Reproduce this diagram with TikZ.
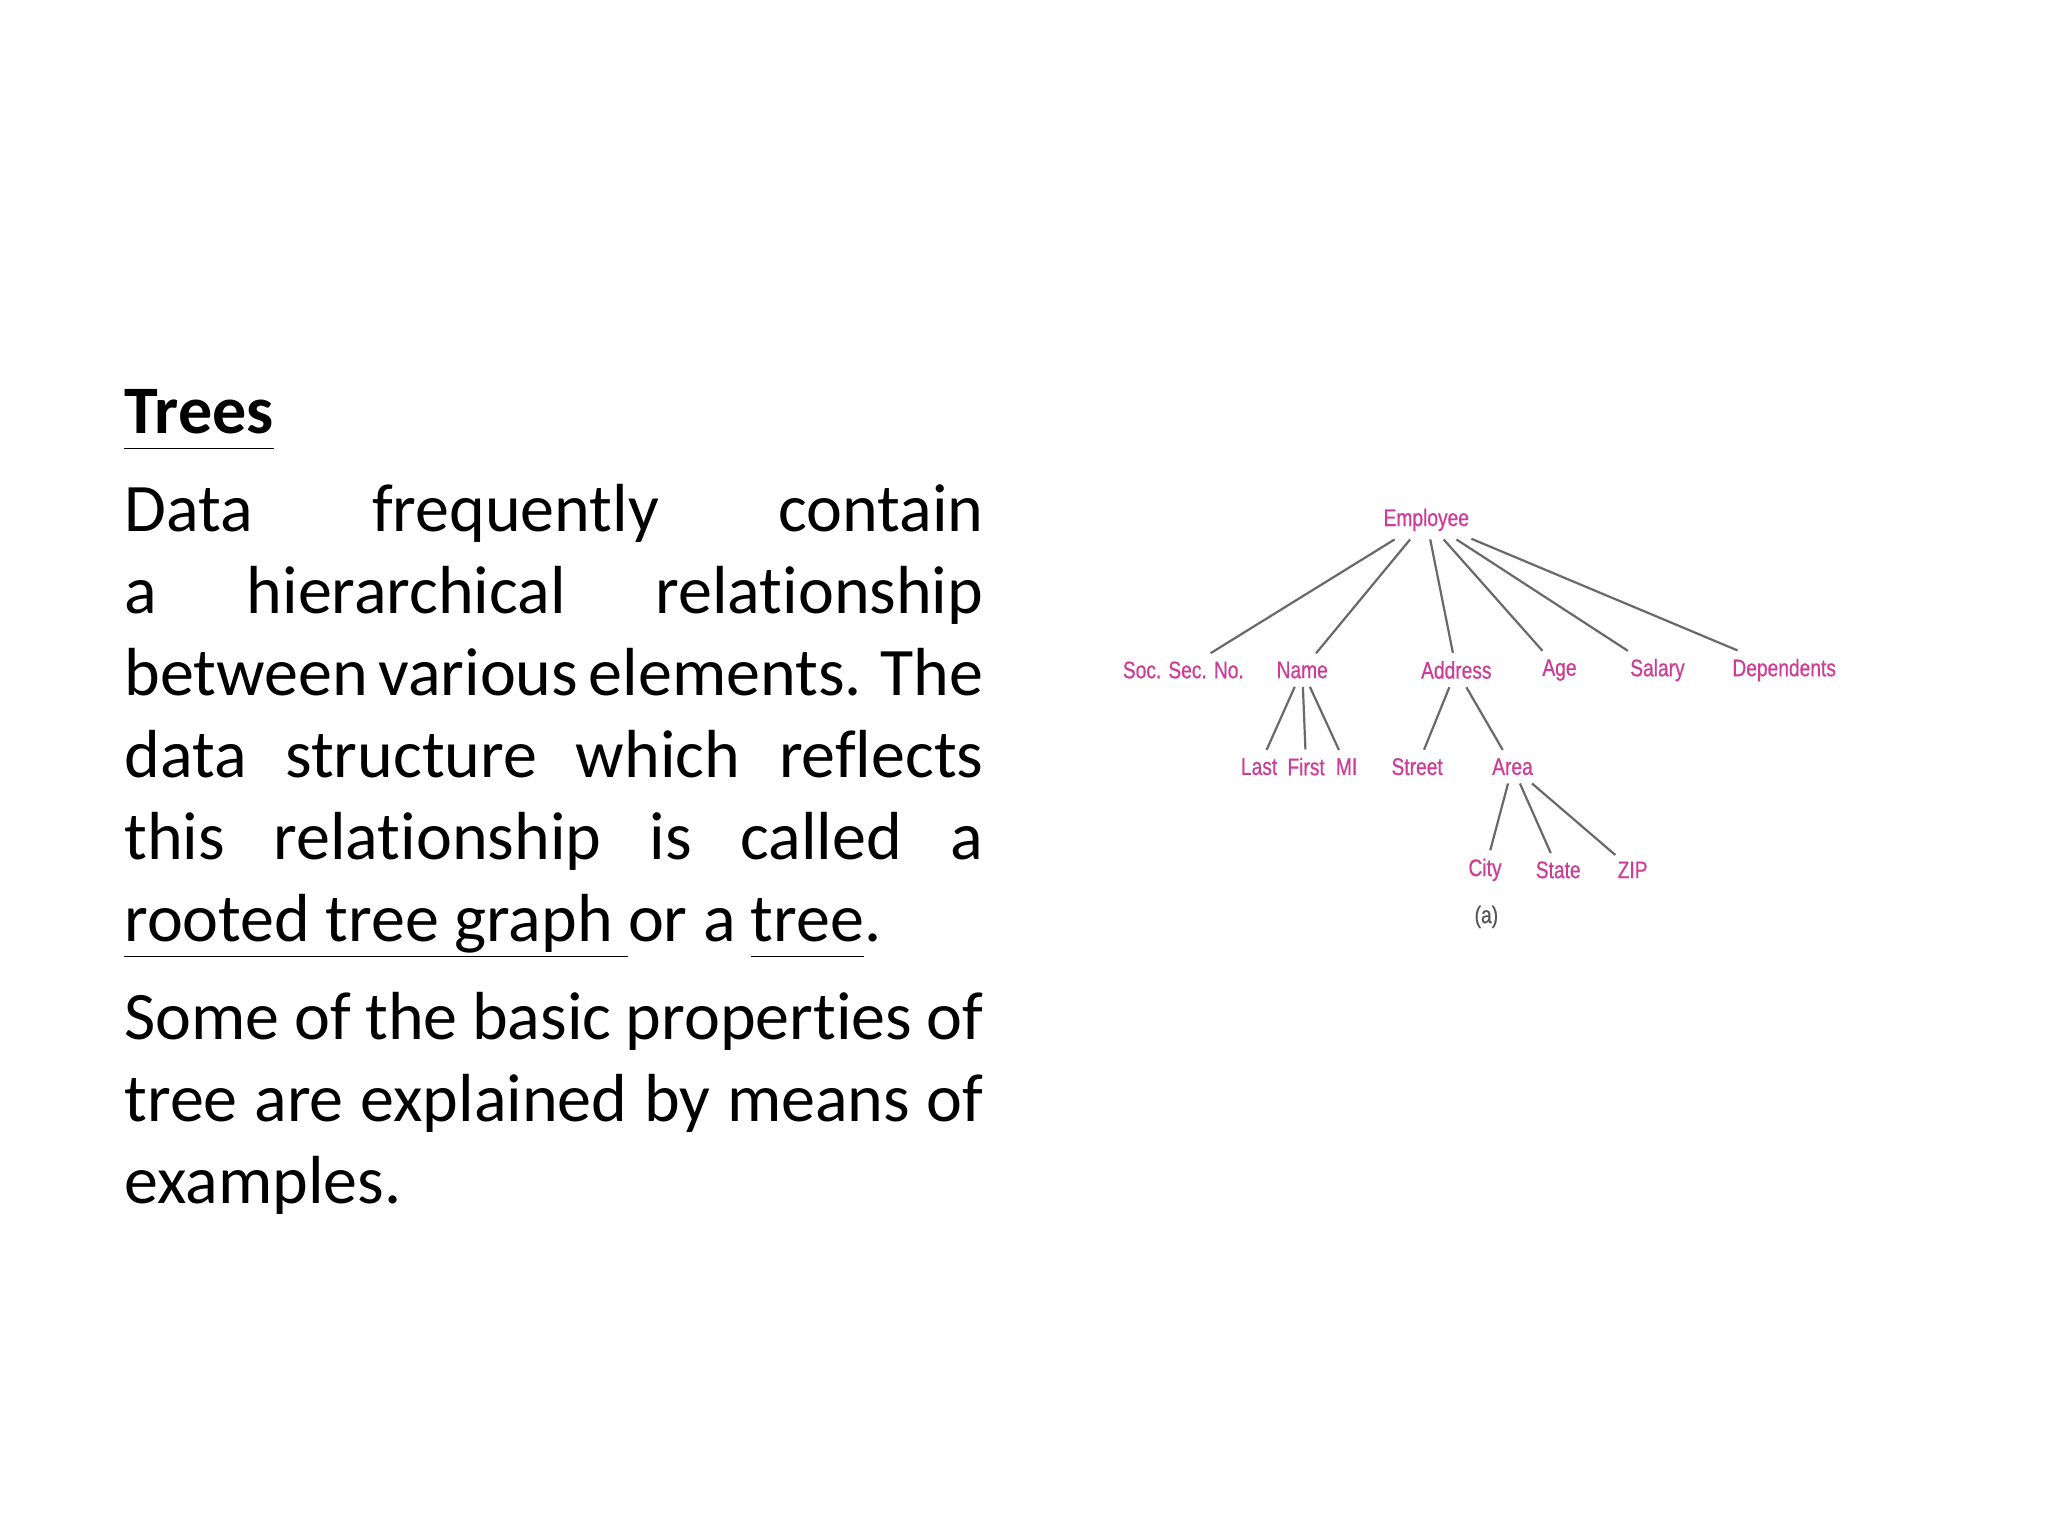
\documentclass[tikz,border=0pt]{standalone}
\usepackage{fontspec}
\setmainfont[Ligatures=NoCommon]{Carlito}
\newfontfamily\treefont[FakeStretch=0.8,FakeBold=0.6]{Liberation Sans}
\newcommand\myul[1]{\underline{#1\vphantom{g}}}
\definecolor{lbl}{RGB}{205,60,150}
\definecolor{edge}{RGB}{105,105,105}
\begin{document}
\begin{tikzpicture}[x=0.6531pt,y=-0.6531pt,
  tn/.style={font=\treefont\fontsize{12}{14}\selectfont, text=lbl, inner xsep=1pt, inner ysep=4pt},
  ed/.style={draw=edge, line width=1.1pt}]
\useasboundingbox (0,0) rectangle (1568,1176);
\fill[white] (0,0) rectangle (1568,1176);
\node[anchor=north west, inner sep=0pt, text width=429.5pt, align=justify,
  font=\fontsize{34}{41}\selectfont] (body) at (95,298) {%
\hyphenpenalty=10000 \exhyphenpenalty=10000
\myul{\textbf{Trees}}\par\vspace{8pt}
Data frequently contain a hierarchical relationship between various elements. The data structure which reflects this relationship is called a \myul{rooted tree graph\ }or a \myul{tree}.\par\vspace{8pt}
Some of the basic properties of tree are explained by means of examples.\par};
\node[tn] (emp) at (1092,398) {Employee};
\node[tn] (ssn) at (906,513) {Soc. Sec. No.};
\node[tn] (name) at (997,513) {Name};
\node[tn] (addr) at (1115,513) {Address};
\node[tn] (age) at (1194,513) {Age};
\node[tn] (sal) at (1269,513) {Salary};
\node[tn] (dep) at (1366,513) {Dependents};
\node[tn] (last) at (964,587) {Last};
\node[tn] (first) at (1000,587) {First};
\node[tn] (mi) at (1031,587) {MI};
\node[tn] (street) at (1085,587) {Street};
\node[tn] (area) at (1158,587) {Area};
\node[tn] (city) at (1137,666) {City};
\node[tn] (state) at (1193,666) {State};
\node[tn] (zip) at (1250,666) {ZIP};
\node[tn, text=edge!80!black] (cap) at (1138,702) {(a)};
\foreach \c in {ssn,name,addr,age,sal,dep} \draw[ed] (emp) -- (\c);
\foreach \c in {last,first,mi} \draw[ed] (name) -- (\c);
\foreach \c in {street,area} \draw[ed] (addr) -- (\c);
\foreach \c in {city,state,zip} \draw[ed] (area) -- (\c);
\end{tikzpicture}
\end{document}
